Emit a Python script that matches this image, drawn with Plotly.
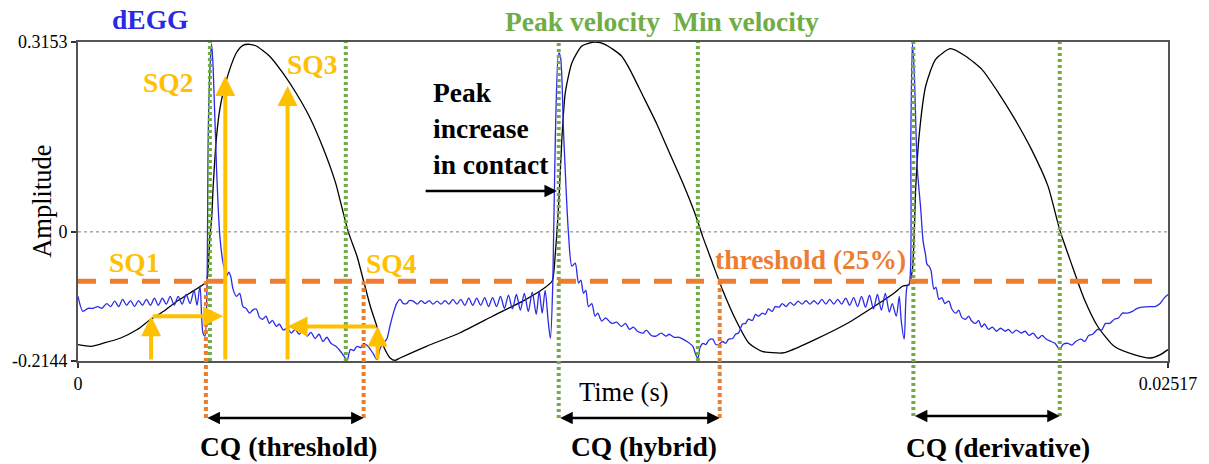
import numpy as np
import plotly.graph_objects as go

# ---------------- axis extents ----------------
x_max = 0.02517
y_min, y_max = -0.2144, 0.3153

# ---------------- EGG signal (black) ----------------
egg_time_ms = [
    0.000, 0.298, 0.602, 0.985, 1.367, 1.672, 1.977, 2.283, 2.588, 2.893,
    2.970, 3.046, 3.085, 3.122, 3.200, 3.275, 3.351, 3.504, 3.658, 3.809,
    3.962, 4.116, 4.420, 4.725, 5.032, 5.336, 5.641, 5.948, 6.069, 6.241,
    6.443, 6.596, 6.750, 6.901, 7.054, 7.208, 7.322, 7.437, 8.046, 8.811,
    9.573, 10.336, 10.719, 10.948, 11.023, 11.101, 11.177, 11.252, 11.406, 11.635,
    11.939, 12.168, 12.551, 12.741, 13.048, 13.352, 13.657, 13.964, 14.269, 14.422,
    14.651, 14.880, 15.185, 15.489, 15.796, 16.254, 16.406, 17.017, 17.780, 18.391,
    18.849, 19.039, 19.193, 19.268, 19.307, 19.346, 19.422, 19.575, 19.804, 20.148,
    20.491, 20.872, 21.254, 21.636, 22.017, 22.399, 22.667, 22.933, 23.240, 23.544,
    23.927, 24.385, 24.765, 24.994, 25.170,
]
egg_amp = [
    -0.1872, -0.1900, -0.1845, -0.1762, -0.1622, -0.1456, -0.1318, -0.1152, -0.1014, -0.0874,
    -0.0819, -0.0071, 0.0211, 0.0760, 0.1591, 0.2040, 0.2310, 0.2699, 0.2975, 0.3098,
    0.3115, 0.3087, 0.2920, 0.2643, 0.2310, 0.1923, 0.1425, 0.0814, 0.0477, 0.0000,
    -0.0404, -0.0819, -0.1235, -0.1567, -0.1900, -0.2094, -0.2133, -0.2094, -0.1900, -0.1679,
    -0.1401, -0.1124, -0.0957, -0.0819, -0.0349, 0.0482, 0.1591, 0.2310, 0.2809, 0.3087,
    0.3153, 0.3115, 0.2920, 0.2699, 0.2256, 0.1812, 0.1313, 0.0814, 0.0261, -0.0071,
    -0.0515, -0.0957, -0.1456, -0.1845, -0.1983, -0.2011, -0.1983, -0.1789, -0.1513, -0.1235,
    -0.1014, -0.0903, -0.0874, -0.0625, -0.0071, 0.0760, 0.1591, 0.2422, 0.2866, 0.3042,
    0.2920, 0.2699, 0.2310, 0.1868, 0.1370, 0.0760, 0.0040, -0.0515, -0.1124, -0.1567,
    -0.1900, -0.2038, -0.2094, -0.2038, -0.1955,
]

# ---------------- dEGG signal (blue) ----------------
degg_time_ms = [
    0.000, 0.115, 0.229, 0.344, 0.458, 0.550, 0.664, 0.756, 0.847, 0.939,
    1.031, 1.122, 1.214, 1.305, 1.397, 1.489, 1.580, 1.672, 1.764, 1.855,
    1.947, 2.038, 2.130, 2.222, 2.313, 2.405, 2.496, 2.588, 2.680, 2.748,
    2.817, 2.886, 2.932, 2.977, 3.007, 3.046, 3.085, 3.122, 3.200, 3.275,
    3.351, 3.429, 3.481, 3.527, 3.580, 3.658, 3.733, 3.809, 3.882, 3.962,
    4.031, 4.116, 4.191, 4.267, 4.340, 4.420, 4.489, 4.581, 4.649, 4.741,
    4.833, 4.924, 5.016, 5.107, 5.199, 5.291, 5.382, 5.474, 5.565, 5.657,
    5.749, 5.840, 5.955, 6.046, 6.177, 6.214, 6.291, 6.367, 6.443, 6.527,
    6.596, 6.665, 6.750, 6.825, 6.901, 6.979, 7.054, 7.130, 7.208, 7.283,
    7.352, 7.437, 7.512, 7.588, 7.650, 7.741, 7.833, 7.924, 8.016, 8.108,
    8.199, 8.291, 8.382, 8.474, 8.566, 8.657, 8.749, 8.841, 8.932, 9.024,
    9.115, 9.207, 9.299, 9.390, 9.482, 9.573, 9.665, 9.757, 9.848, 9.940,
    10.032, 10.123, 10.215, 10.306, 10.398, 10.490, 10.581, 10.650, 10.719, 10.787,
    10.856, 10.909, 10.964, 11.023, 11.101, 11.138, 11.216, 11.330, 11.406, 11.481,
    11.559, 11.612, 11.673, 11.726, 11.788, 11.864, 11.939, 12.001, 12.093, 12.184,
    12.322, 12.436, 12.551, 12.642, 12.734, 12.826, 12.917, 13.055, 13.123, 13.238,
    13.352, 13.467, 13.581, 13.650, 13.765, 13.879, 13.971, 14.062, 14.200, 14.246,
    14.314, 14.360, 14.429, 14.498, 14.566, 14.658, 14.727, 14.795, 14.887, 14.956,
    15.024, 15.116, 15.185, 15.253, 15.345, 15.414, 15.482, 15.574, 15.643, 15.711,
    15.803, 15.872, 15.940, 16.032, 16.101, 16.192, 16.261, 16.353, 16.444, 16.536,
    16.628, 16.719, 16.811, 16.902, 16.994, 17.086, 17.177, 17.269, 17.360, 17.452,
    17.544, 17.635, 17.727, 17.819, 17.910, 18.002, 18.093, 18.185, 18.277, 18.368,
    18.460, 18.551, 18.643, 18.735, 18.803, 18.895, 18.964, 19.009, 19.078, 19.147,
    19.193, 19.232, 19.268, 19.307, 19.383, 19.460, 19.513, 19.575, 19.605, 19.651,
    19.697, 19.765, 19.811, 19.880, 19.949, 20.017, 20.109, 20.178, 20.269, 20.338,
    20.407, 20.498, 20.567, 20.636, 20.727, 20.796, 20.865, 20.933, 21.025, 21.117,
    21.208, 21.300, 21.414, 21.483, 21.575, 21.666, 21.781, 21.872, 21.964, 22.056,
    22.170, 22.262, 22.353, 22.468, 22.559, 22.674, 22.743, 22.857, 22.949, 23.040,
    23.155, 23.247, 23.338, 23.430, 23.544, 23.636, 23.727, 23.819, 23.934, 24.025,
    24.117, 24.231, 24.346, 24.460, 24.575, 24.758, 24.873, 24.987, 25.079, 25.170,
]
degg_amp = [
    -0.107, -0.132, -0.127, -0.127, -0.124, -0.127, -0.119, -0.124, -0.115, -0.124,
    -0.112, -0.122, -0.114, -0.124, -0.114, -0.122, -0.112, -0.122, -0.110, -0.122,
    -0.110, -0.120, -0.107, -0.122, -0.107, -0.120, -0.104, -0.119, -0.097, -0.122,
    -0.090, -0.168, -0.173, -0.097, 0.159, 0.270, 0.312, 0.270, 0.104, -0.007,
    -0.052, -0.074, -0.067, -0.074, -0.095, -0.107, -0.102, -0.124, -0.127, -0.135,
    -0.130, -0.128, -0.142, -0.145, -0.140, -0.152, -0.147, -0.157, -0.153, -0.163,
    -0.160, -0.168, -0.162, -0.170, -0.163, -0.173, -0.167, -0.177, -0.170, -0.182,
    -0.175, -0.185, -0.190, -0.197, -0.210, -0.214, -0.195, -0.197, -0.190, -0.192,
    -0.185, -0.188, -0.195, -0.203, -0.212, -0.193, -0.185, -0.178, -0.155, -0.135,
    -0.120, -0.112, -0.119, -0.119, -0.114, -0.115, -0.120, -0.114, -0.119, -0.114,
    -0.120, -0.115, -0.120, -0.114, -0.120, -0.112, -0.120, -0.112, -0.122, -0.110,
    -0.122, -0.110, -0.122, -0.109, -0.124, -0.109, -0.124, -0.107, -0.127, -0.105,
    -0.128, -0.104, -0.130, -0.102, -0.132, -0.100, -0.137, -0.099, -0.135, -0.097,
    -0.147, -0.177, -0.085, 0.159, 0.297, 0.292, 0.159, -0.007, -0.057, -0.052,
    -0.085, -0.080, -0.102, -0.097, -0.124, -0.119, -0.140, -0.135, -0.148, -0.143,
    -0.152, -0.150, -0.157, -0.152, -0.162, -0.158, -0.165, -0.168, -0.163, -0.172,
    -0.173, -0.168, -0.173, -0.170, -0.175, -0.175, -0.178, -0.182, -0.190, -0.200,
    -0.210, -0.193, -0.185, -0.187, -0.180, -0.178, -0.187, -0.187, -0.182, -0.185,
    -0.178, -0.177, -0.170, -0.168, -0.153, -0.152, -0.145, -0.147, -0.137, -0.140,
    -0.135, -0.137, -0.128, -0.132, -0.124, -0.125, -0.119, -0.124, -0.117, -0.122,
    -0.115, -0.120, -0.114, -0.120, -0.114, -0.120, -0.112, -0.120, -0.112, -0.120,
    -0.112, -0.120, -0.110, -0.122, -0.109, -0.124, -0.107, -0.125, -0.105, -0.128,
    -0.104, -0.130, -0.102, -0.133, -0.119, -0.140, -0.107, -0.147, -0.178, -0.090,
    -0.087, 0.159, 0.312, 0.270, 0.104, 0.038, -0.014, -0.040, -0.054, -0.057,
    -0.064, -0.095, -0.092, -0.112, -0.109, -0.119, -0.115, -0.128, -0.135, -0.130,
    -0.142, -0.145, -0.140, -0.148, -0.152, -0.147, -0.158, -0.153, -0.162, -0.158,
    -0.165, -0.160, -0.165, -0.162, -0.168, -0.163, -0.168, -0.165, -0.172, -0.168,
    -0.177, -0.172, -0.178, -0.182, -0.185, -0.195, -0.187, -0.185, -0.188, -0.182,
    -0.178, -0.182, -0.172, -0.170, -0.162, -0.163, -0.152, -0.152, -0.145, -0.143,
    -0.135, -0.135, -0.132, -0.127, -0.125, -0.124, -0.124, -0.119, -0.110, -0.104,
]

# ---------------- event times / levels ----------------
peak_velocity_ms = [3.046, 11.101, 19.290]
min_velocity_ms = [6.184, 14.314, 22.670]
threshold_open_ms = 2.954
threshold_close_ms = [6.596, 14.818]
threshold_level = -0.0820
sq_time_ms = [1.688, 3.401, 4.839, 6.917]
sq_level = [-0.1400, 0.2588, 0.2422, -0.1570]
peak_contact_arrow_ms = [7.993, 11.060]
peak_contact_level = 0.0677

# ---------------- colours ----------------
BLACK = "#000000"
BLUE = "#2A2AE6"
GREEN = "#70AD47"
ORANGE = "#ED7D31"
YELLOW = "#FFC000"
SERIF = "Liberation Serif"

ms = lambda v: v / 1000.0

fig = go.Figure()
fig.add_trace(go.Scatter(x=[ms(t) for t in egg_time_ms], y=egg_amp, mode="lines",
                         line=dict(color=BLACK, width=1.3, shape="spline", smoothing=0.6),
                         showlegend=False, hoverinfo="skip"))
fig.add_trace(go.Scatter(x=[ms(t) for t in degg_time_ms], y=degg_amp, mode="lines",
                         line=dict(color=BLUE, width=1.3, shape="spline", smoothing=0.8),
                         showlegend=False, hoverinfo="skip"))

shapes = []
# zero line
shapes.append(dict(type="line", xref="paper", yref="y", x0=0, x1=1, y0=0, y1=0,
                   line=dict(color="#7a7a7a", width=1, dash="dot")))

thr_paper = (threshold_level - y_min) / (y_max - y_min)
cq_y = -0.1787  # paper level of the CQ arrows

def vline(t_ms, y0, y1, color, dash):
    shapes.append(dict(type="line", xref="x", yref="paper", x0=ms(t_ms), x1=ms(t_ms),
                       y0=y0, y1=y1, line=dict(color=color, width=4, dash=dash)))

# green (velocity) lines
vline(peak_velocity_ms[0], 0, 1, GREEN, "3px,3px")
vline(min_velocity_ms[0], 0, 1, GREEN, "3px,3px")
vline(peak_velocity_ms[1], cq_y, 1, GREEN, "3px,3px")
vline(min_velocity_ms[1], 0, 1, GREEN, "3px,3px")
vline(peak_velocity_ms[2], cq_y + 0.006, 1, GREEN, "3px,3px")
vline(min_velocity_ms[2], cq_y + 0.006, 1, GREEN, "3px,3px")
# orange (threshold) lines
vline(threshold_open_ms, cq_y, thr_paper, ORANGE, "4px,3px")
vline(threshold_close_ms[0], cq_y, thr_paper, ORANGE, "4px,3px")
vline(threshold_close_ms[1], cq_y, thr_paper, ORANGE, "4px,3px")
# threshold dashed line
shapes.append(dict(type="line", xref="x", yref="y", x0=0, x1=ms(25.01),
                   y0=threshold_level, y1=threshold_level,
                   line=dict(color=ORANGE, width=5, dash="18px,14px")))

annotations = []

def arrow(x_head, y_head, x_tail, y_tail, color, width, yref="y", both=False, size=1.0):
    a = dict(x=x_head, y=y_head, xref="x", yref=yref, showarrow=True, text="",
             arrowhead=2, arrowsize=size, arrowwidth=width, arrowcolor=color,
             axref="x", ax=x_tail, standoff=0, startstandoff=0)
    if yref == "y":
        a.update(ayref="y", ay=y_tail)
    else:
        a.update(ayref="pixel", ay=0)
    if both:
        a.update(arrowside="end+start", startarrowhead=2, startarrowsize=size)
    annotations.append(a)

# SQ arrows (yellow)
for t, lvl in zip(sq_time_ms, sq_level):
    arrow(ms(t), lvl, ms(t), y_min, YELLOW, 4)
arrow(ms(3.351), sq_level[0], ms(sq_time_ms[0]), sq_level[0], YELLOW, 4)
arrow(ms(sq_time_ms[2]), sq_level[3], ms(sq_time_ms[3]), sq_level[3], YELLOW, 4)
# peak increase in contact arrow
arrow(ms(peak_contact_arrow_ms[1]), peak_contact_level, ms(peak_contact_arrow_ms[0]),
      peak_contact_level, BLACK, 2.5)
# CQ double arrows
arrow(ms(threshold_close_ms[0]), cq_y, ms(threshold_open_ms), None, BLACK, 2.5, yref="paper", both=True)
arrow(ms(threshold_close_ms[1]), cq_y, ms(peak_velocity_ms[1]), None, BLACK, 2.5, yref="paper", both=True)
arrow(ms(min_velocity_ms[2]), cq_y + 0.006, ms(peak_velocity_ms[2]), None, BLACK, 2.5, yref="paper", both=True)

def label(text, x, y, color, size=27.5, bold=True, xanchor="center", angle=0, align="center"):
    annotations.append(dict(text=f"<b>{text}</b>" if bold else text, x=x, y=y,
                            xref="paper", yref="paper", showarrow=False,
                            xanchor=xanchor, yanchor="middle", align=align, textangle=angle,
                            font=dict(family=SERIF, size=size, color=color)))

label("dEGG", 0.0664, 1.072, BLUE)
label("Peak velocity", 0.4631, 1.0627, GREEN)
label("Min velocity", 0.6124, 1.0627, GREEN)
label("SQ1", 0.0510, 0.3103, YELLOW)
label("SQ2", 0.0828, 0.8746, YELLOW)
label("SQ3", 0.2147, 0.9279, YELLOW)
label("SQ4", 0.2875, 0.3072, YELLOW)
label("threshold (25%)", 0.6724, 0.3197, ORANGE)
label("Peak<br>increase<br>in contact", 0.3239, 0.7273, BLACK, xanchor="left", align="left")
label("CQ (threshold)", 0.1938, -0.268, BLACK)
label("CQ (hybrid)", 0.5196, -0.268, BLACK)
label("CQ (derivative)", 0.8444, -0.272, BLACK)
label("Amplitude", -0.0337, 0.5, BLACK, size=26.5, bold=False, angle=-90)
label("Time (s)", 0.5005, -0.0972, BLACK, size=26.5, bold=False)

fig.update_layout(
    width=1209, height=464,
    margin=dict(l=77, r=33, t=42, b=103),
    paper_bgcolor="white", plot_bgcolor="white",
    shapes=shapes, annotations=annotations,
    showlegend=False,
    xaxis=dict(range=[0, x_max], tickvals=[0, x_max], ticktext=["0", "0.02517"],
               showgrid=False, zeroline=False, showline=True, mirror=True,
               linecolor="#555555", linewidth=2, ticks="outside", ticklen=5,
               tickwidth=2, tickcolor="#333333",
               tickfont=dict(family=SERIF, size=18, color="black")),
    yaxis=dict(range=[y_min, y_max], tickvals=[y_min, 0, y_max],
               ticktext=["-0.2144", "0", "0.3153"],
               showgrid=False, zeroline=False, showline=True, mirror=True,
               linecolor="#555555", linewidth=2, ticks="outside", ticklen=5,
               tickwidth=2, tickcolor="#333333",
               tickfont=dict(family=SERIF, size=18, color="black")),
)

fig.write_html("out.html")
